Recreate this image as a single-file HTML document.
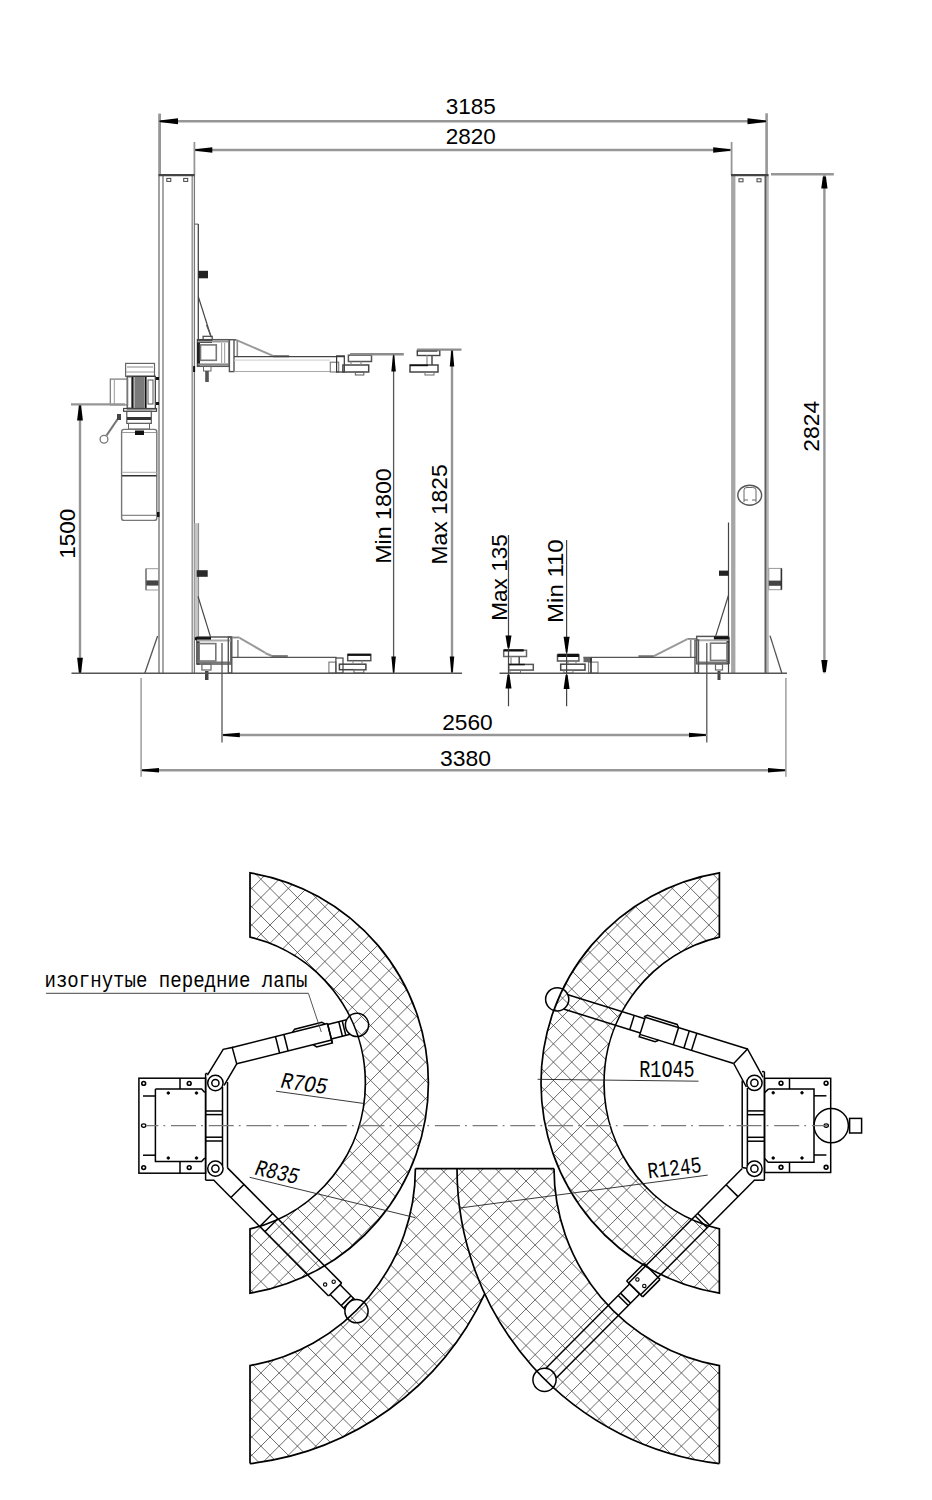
<!DOCTYPE html>
<html><head><meta charset="utf-8"><style>html,body{margin:0;padding:0;background:#fff;}svg{display:block;}</style></head>
<body><svg width="932" height="1500" viewBox="0 0 932 1500">
<rect width="932" height="1500" fill="#fff"/>
<line x1="159.60" y1="113.60" x2="159.60" y2="175.00" stroke="#969696" stroke-width="2.8" />
<line x1="766.60" y1="113.30" x2="766.60" y2="175.00" stroke="#969696" stroke-width="2.6" />
<line x1="158.60" y1="121.20" x2="766.90" y2="121.20" stroke="#969696" stroke-width="2.4" />
<path d="M159.50,120.45 L178.00,118.20 L178.00,124.20 L159.50,121.95 Z" fill="#000"/>
<path d="M766.00,121.95 L747.50,124.20 L747.50,118.20 L766.00,120.45 Z" fill="#000"/>
<text x="470.75" y="114.30" font-family="Liberation Sans" font-size="22.5" text-anchor="middle" textLength="50" lengthAdjust="spacingAndGlyphs">3185</text>
<line x1="194.40" y1="142.00" x2="194.40" y2="175.00" stroke="#969696" stroke-width="1.8" />
<line x1="731.60" y1="142.00" x2="731.60" y2="175.00" stroke="#969696" stroke-width="1.8" />
<line x1="194.50" y1="150.00" x2="731.00" y2="150.00" stroke="#969696" stroke-width="2.4" />
<path d="M195.30,149.25 L212.30,147.25 L212.30,152.75 L195.30,150.75 Z" fill="#000"/>
<path d="M730.20,150.75 L713.20,152.75 L713.20,147.25 L730.20,149.25 Z" fill="#000"/>
<text x="470.75" y="144.40" font-family="Liberation Sans" font-size="22.5" text-anchor="middle" textLength="50" lengthAdjust="spacingAndGlyphs">2820</text>
<line x1="159.00" y1="174.50" x2="159.00" y2="673.30" stroke="#8a8a8a" stroke-width="1.6" />
<line x1="163.00" y1="174.50" x2="163.00" y2="673.30" stroke="#777" stroke-width="1.3" />
<line x1="192.20" y1="174.50" x2="192.20" y2="673.30" stroke="#888" stroke-width="1.3" />
<line x1="194.40" y1="174.50" x2="194.40" y2="673.30" stroke="#777" stroke-width="1.3" />
<line x1="158.60" y1="175.10" x2="194.50" y2="175.10" stroke="#444" stroke-width="2.2" />
<rect x="166.80" y="178.40" width="4.00" height="3.00" stroke="#444" stroke-width="1.0" fill="none"/>
<rect x="183.70" y="178.40" width="4.00" height="3.00" stroke="#444" stroke-width="1.0" fill="none"/>
<rect x="731.10" y="174.50" width="4.30" height="498.80" stroke="none" stroke-width="0" fill="#a6a6a6"/>
<rect x="764.50" y="174.50" width="2.20" height="498.80" stroke="none" stroke-width="0" fill="#5e5e5e"/>
<rect x="766.70" y="174.50" width="2.10" height="498.80" stroke="none" stroke-width="0" fill="#b8b8b8"/>
<line x1="731.00" y1="175.10" x2="768.50" y2="175.10" stroke="#444" stroke-width="2.2" />
<rect x="739.00" y="178.80" width="4.00" height="3.00" stroke="#444" stroke-width="1.0" fill="none"/>
<rect x="757.00" y="178.80" width="4.00" height="3.00" stroke="#444" stroke-width="1.0" fill="none"/>
<ellipse cx="749.7" cy="495.2" rx="11.9" ry="10" fill="none" stroke="#555" stroke-width="1.4"/>
<path d="M744,502 L744,490 Q744,487.5 747,487.5 L752.5,487.5 Q756,487.5 756,490 L756,502 M744,500 L748,500 M752,500 L756,500" stroke="#666" stroke-width="1.0" fill="none" />
<line x1="728.50" y1="522.50" x2="728.50" y2="673.00" stroke="#444" stroke-width="1.2" />
<rect x="719.00" y="570.60" width="9.50" height="5.20" stroke="none" stroke-width="0" fill="#222"/>
<rect x="768.80" y="568.40" width="12.60" height="21.30" stroke="#999" stroke-width="1.0" fill="none"/>
<rect x="768.80" y="580.60" width="12.60" height="5.20" stroke="none" stroke-width="0" fill="#444"/>
<line x1="781.40" y1="568.40" x2="781.40" y2="589.70" stroke="#333" stroke-width="1.6" />
<line x1="770.00" y1="635.60" x2="781.80" y2="673.00" stroke="#555" stroke-width="1.3" />
<line x1="198.30" y1="224.10" x2="198.30" y2="340.00" stroke="#444" stroke-width="1.3" />
<line x1="194.50" y1="224.10" x2="198.30" y2="224.10" stroke="#555" stroke-width="1.0" />
<rect x="198.30" y="270.80" width="9.70" height="7.50" stroke="none" stroke-width="0" fill="#222"/>
<line x1="198.30" y1="296.60" x2="211.20" y2="337.30" stroke="#444" stroke-width="1.2" />
<rect x="194.50" y="523.20" width="4.40" height="114.00" stroke="none" stroke-width="0" fill="#c4c4c4"/>
<line x1="198.60" y1="523.20" x2="198.60" y2="637.00" stroke="#888" stroke-width="1.0" />
<rect x="196.70" y="570.20" width="11.00" height="6.60" stroke="none" stroke-width="0" fill="#2a2a2a"/>
<line x1="198.00" y1="596.40" x2="210.60" y2="637.10" stroke="#444" stroke-width="1.2" />
<rect x="146.00" y="568.70" width="12.50" height="21.30" stroke="#999" stroke-width="1.0" fill="none"/>
<rect x="146.00" y="580.40" width="12.50" height="5.20" stroke="none" stroke-width="0" fill="#444"/>
<line x1="146.00" y1="568.70" x2="146.00" y2="590.00" stroke="#666" stroke-width="1.2" />
<line x1="157.60" y1="636.00" x2="144.80" y2="673.30" stroke="#555" stroke-width="1.3" />
<line x1="728.50" y1="595.20" x2="715.60" y2="636.40" stroke="#444" stroke-width="1.2" />
<rect x="125.60" y="363.40" width="28.90" height="12.90" stroke="#666" stroke-width="1.2" fill="none"/>
<line x1="127.00" y1="367.00" x2="153.00" y2="367.00" stroke="#888" stroke-width="1.0" />
<line x1="126.00" y1="372.00" x2="154.00" y2="372.00" stroke="#999" stroke-width="1.0" />
<rect x="127.20" y="376.30" width="28.10" height="32.60" stroke="#333" stroke-width="1.2" fill="none"/>
<rect x="134.40" y="377.00" width="9.70" height="31.00" stroke="none" stroke-width="0" fill="#7a7a7a"/>
<line x1="132.60" y1="377.00" x2="132.60" y2="408.00" stroke="#111" stroke-width="2.0" />
<line x1="145.60" y1="377.00" x2="145.60" y2="408.00" stroke="#111" stroke-width="2.0" />
<rect x="148.00" y="380.00" width="5.00" height="24.00" stroke="#555" stroke-width="1.0" fill="none"/>
<rect x="127.60" y="377.00" width="4.00" height="31.00" stroke="#666" stroke-width="1.0" fill="none"/>
<rect x="156.00" y="377.00" width="3.00" height="3.00" stroke="none" stroke-width="0" fill="#111"/>
<rect x="156.00" y="402.00" width="3.00" height="3.00" stroke="none" stroke-width="0" fill="#111"/>
<rect x="110.30" y="379.10" width="17.30" height="25.80" stroke="#777" stroke-width="1.2" fill="none"/>
<line x1="114.30" y1="379.10" x2="114.30" y2="404.90" stroke="#999" stroke-width="1.0" />
<rect x="123.60" y="408.50" width="32.90" height="2.80" stroke="#444" stroke-width="1.2" fill="none"/>
<rect x="126.80" y="411.30" width="24.50" height="12.10" stroke="#555" stroke-width="1.2" fill="none"/>
<rect x="127.00" y="417.00" width="24.00" height="3.00" stroke="none" stroke-width="0" fill="#333"/>
<rect x="128.50" y="423.40" width="21.00" height="5.60" stroke="#666" stroke-width="1.0" fill="none"/>
<line x1="119.10" y1="417.00" x2="106.50" y2="435.50" stroke="#777" stroke-width="2.2" />
<circle cx="104.00" cy="439.30" r="3.90" stroke="#777" stroke-width="1.3" fill="none"/>
<rect x="117.00" y="414.00" width="4.00" height="6.00" stroke="none" stroke-width="0" fill="#444"/>
<rect x="121.6" y="429.4" width="35.2" height="91" rx="2.5" stroke="#777" stroke-width="1.4" fill="none"/>
<line x1="122.00" y1="432.50" x2="156.00" y2="432.50" stroke="#999" stroke-width="1.0" />
<rect x="135.00" y="430.50" width="9.00" height="4.50" stroke="none" stroke-width="0" fill="#111"/>
<line x1="122.00" y1="472.40" x2="156.50" y2="472.40" stroke="#bbb" stroke-width="1.2" />
<line x1="122.00" y1="475.80" x2="156.50" y2="475.80" stroke="#333" stroke-width="1.5" />
<line x1="122.00" y1="515.30" x2="156.50" y2="515.30" stroke="#888" stroke-width="1.2" />
<rect x="157.00" y="512.00" width="2.50" height="5.00" stroke="none" stroke-width="0" fill="#111"/>
<rect x="197.50" y="339.70" width="31.60" height="26.60" stroke="#555" stroke-width="1.5" fill="none"/>
<rect x="197.00" y="340.00" width="3.00" height="26.00" stroke="none" stroke-width="0" fill="#222"/>
<rect x="197.50" y="339.70" width="14.50" height="3.30" stroke="none" stroke-width="0" fill="#111"/>
<line x1="197.50" y1="341.50" x2="229.00" y2="341.50" stroke="#999" stroke-width="2.0" />
<line x1="197.50" y1="364.50" x2="229.00" y2="364.50" stroke="#888" stroke-width="2.2" />
<rect x="200.50" y="344.90" width="15.80" height="15.40" stroke="#777" stroke-width="1.6" fill="none"/>
<line x1="221.60" y1="343.00" x2="221.60" y2="363.00" stroke="#aaa" stroke-width="1.2" />
<line x1="224.60" y1="343.00" x2="224.60" y2="363.00" stroke="#aaa" stroke-width="1.2" />
<rect x="229.40" y="339.70" width="4.60" height="31.90" stroke="#555" stroke-width="1.4" fill="none"/>
<rect x="203.10" y="336.30" width="9.10" height="3.40" stroke="#444" stroke-width="1.2" fill="none"/>
<line x1="206.50" y1="325.00" x2="210.70" y2="335.50" stroke="#555" stroke-width="1.2" />
<rect x="203.50" y="366.30" width="7.50" height="4.70" stroke="#666" stroke-width="1.0" fill="none"/>
<rect x="205.20" y="371.00" width="3.60" height="11.00" stroke="none" stroke-width="0" fill="#555"/>
<line x1="234.00" y1="339.90" x2="236.00" y2="339.90" stroke="#666" stroke-width="1.6" />
<line x1="236.00" y1="339.90" x2="273.10" y2="355.90" stroke="#999" stroke-width="2.0" />
<line x1="273.10" y1="356.20" x2="289.20" y2="356.20" stroke="#777" stroke-width="2.2" />
<line x1="237.30" y1="340.00" x2="237.30" y2="356.60" stroke="#888" stroke-width="1.6" />
<line x1="234.00" y1="356.60" x2="344.30" y2="356.60" stroke="#444" stroke-width="1.4" />
<line x1="234.00" y1="360.10" x2="330.00" y2="360.10" stroke="#ccc" stroke-width="1.0" />
<line x1="234.00" y1="371.50" x2="330.30" y2="371.50" stroke="#aaa" stroke-width="1.2" />
<rect x="330.30" y="362.20" width="8.40" height="9.80" stroke="#777" stroke-width="1.1" fill="none"/>
<rect x="336.60" y="355.90" width="7.70" height="16.10" stroke="#333" stroke-width="1.2" fill="none"/>
<rect x="348.40" y="355.20" width="23.10" height="6.30" stroke="#555" stroke-width="1.5" fill="none"/>
<rect x="342.90" y="365.00" width="25.80" height="7.00" stroke="#444" stroke-width="1.5" fill="none"/>
<rect x="355.40" y="372.00" width="8.40" height="3.00" stroke="#666" stroke-width="1.1" fill="none"/>
<line x1="351.00" y1="361.50" x2="351.00" y2="365.00" stroke="#888" stroke-width="1.2" />
<line x1="361.00" y1="361.50" x2="361.00" y2="365.00" stroke="#888" stroke-width="1.2" />
<rect x="417.30" y="350.50" width="22.50" height="5.00" stroke="#444" stroke-width="1.4" fill="none"/>
<rect x="417.30" y="349.30" width="20.00" height="2.20" stroke="none" stroke-width="0" fill="#111"/>
<line x1="427.00" y1="355.50" x2="427.00" y2="365.00" stroke="#999" stroke-width="1.4" />
<line x1="432.00" y1="355.50" x2="432.00" y2="365.00" stroke="#555" stroke-width="1.6" />
<rect x="410.00" y="365.00" width="28.00" height="7.00" stroke="#444" stroke-width="1.5" fill="none"/>
<rect x="410.00" y="364.60" width="18.00" height="1.60" stroke="none" stroke-width="0" fill="#111"/>
<rect x="425.00" y="372.00" width="9.00" height="3.00" stroke="#777" stroke-width="1.1" fill="none"/>
<rect x="197.10" y="637.00" width="33.80" height="27.00" stroke="#555" stroke-width="1.5" fill="none"/>
<rect x="196.60" y="637.50" width="3.00" height="27.00" stroke="none" stroke-width="0" fill="#222"/>
<rect x="195.00" y="637.10" width="16.00" height="3.10" stroke="none" stroke-width="0" fill="#111"/>
<line x1="197.10" y1="640.50" x2="230.90" y2="640.50" stroke="#aaa" stroke-width="2.0" />
<rect x="198.00" y="643.60" width="17.80" height="17.40" stroke="#777" stroke-width="1.6" fill="none"/>
<line x1="197.10" y1="662.50" x2="230.90" y2="662.50" stroke="#777" stroke-width="2.2" />
<rect x="228.30" y="637.00" width="3.50" height="36.00" stroke="#555" stroke-width="1.4" fill="none"/>
<rect x="201.90" y="664.00" width="9.10" height="6.00" stroke="#666" stroke-width="1.2" fill="none"/>
<rect x="205.00" y="671.00" width="3.50" height="9.00" stroke="none" stroke-width="0" fill="#444"/>
<line x1="231.80" y1="637.50" x2="239.60" y2="637.50" stroke="#888" stroke-width="1.8" />
<line x1="239.60" y1="637.80" x2="265.00" y2="652.70" stroke="#999" stroke-width="2.0" />
<line x1="265.00" y1="653.00" x2="272.00" y2="656.00" stroke="#999" stroke-width="2.0" />
<line x1="271.70" y1="656.20" x2="287.80" y2="656.20" stroke="#777" stroke-width="2.2" />
<line x1="237.90" y1="640.00" x2="237.90" y2="657.60" stroke="#888" stroke-width="1.6" />
<line x1="231.80" y1="657.30" x2="336.60" y2="657.30" stroke="#555" stroke-width="1.3" />
<rect x="328.90" y="662.10" width="7.00" height="10.90" stroke="#777" stroke-width="1.1" fill="none"/>
<rect x="335.90" y="658.00" width="7.10" height="15.00" stroke="#444" stroke-width="1.2" fill="none"/>
<rect x="347.70" y="654.50" width="23.10" height="6.20" stroke="#555" stroke-width="1.5" fill="none"/>
<rect x="347.70" y="653.70" width="23.10" height="2.20" stroke="none" stroke-width="0" fill="#111"/>
<rect x="339.40" y="664.20" width="26.50" height="5.50" stroke="#444" stroke-width="1.5" fill="none"/>
<rect x="354.00" y="669.70" width="9.80" height="3.30" stroke="#666" stroke-width="1.1" fill="none"/>
<line x1="353.00" y1="660.70" x2="353.00" y2="664.20" stroke="#888" stroke-width="1.1" />
<line x1="362.00" y1="660.70" x2="362.00" y2="664.20" stroke="#888" stroke-width="1.1" />
<rect x="696.70" y="636.40" width="31.80" height="27.40" stroke="#555" stroke-width="1.5" fill="none"/>
<rect x="726.50" y="637.00" width="3.00" height="27.00" stroke="none" stroke-width="0" fill="#222"/>
<rect x="713.90" y="636.40" width="14.60" height="3.60" stroke="none" stroke-width="0" fill="#111"/>
<line x1="696.70" y1="640.30" x2="728.50" y2="640.30" stroke="#aaa" stroke-width="2.0" />
<rect x="710.50" y="643.20" width="17.10" height="17.20" stroke="#777" stroke-width="1.6" fill="none"/>
<line x1="696.70" y1="662.50" x2="728.50" y2="662.50" stroke="#777" stroke-width="2.2" />
<rect x="695.00" y="640.00" width="3.50" height="33.00" stroke="#555" stroke-width="1.4" fill="none"/>
<rect x="715.50" y="664.00" width="7.00" height="6.00" stroke="#666" stroke-width="1.2" fill="none"/>
<rect x="717.50" y="671.00" width="3.00" height="9.00" stroke="none" stroke-width="0" fill="#444"/>
<line x1="696.00" y1="638.90" x2="687.30" y2="638.90" stroke="#888" stroke-width="1.8" />
<line x1="687.30" y1="639.20" x2="653.80" y2="656.10" stroke="#999" stroke-width="2.0" />
<line x1="653.80" y1="656.30" x2="638.40" y2="656.30" stroke="#777" stroke-width="2.2" />
<line x1="690.70" y1="640.00" x2="690.70" y2="657.00" stroke="#888" stroke-width="1.6" />
<line x1="583.40" y1="657.30" x2="696.00" y2="657.30" stroke="#555" stroke-width="1.3" />
<rect x="588.60" y="662.10" width="9.40" height="10.90" stroke="#777" stroke-width="1.1" fill="none"/>
<rect x="583.50" y="657.20" width="8.50" height="5.00" stroke="none" stroke-width="0" fill="#666"/>
<line x1="591.00" y1="657.50" x2="591.00" y2="673.00" stroke="#333" stroke-width="1.6" />
<rect x="557.50" y="655.00" width="21.40" height="6.00" stroke="#555" stroke-width="1.5" fill="none"/>
<rect x="557.50" y="653.70" width="21.40" height="3.30" stroke="none" stroke-width="0" fill="#111"/>
<rect x="560.70" y="664.20" width="24.30" height="5.90" stroke="#444" stroke-width="1.5" fill="none"/>
<rect x="563.90" y="670.10" width="9.10" height="2.90" stroke="#777" stroke-width="1.0" fill="none"/>
<line x1="568.00" y1="661.00" x2="568.00" y2="664.00" stroke="#888" stroke-width="1.2" />
<line x1="576.00" y1="661.00" x2="576.00" y2="664.00" stroke="#888" stroke-width="1.2" />
<rect x="503.70" y="650.30" width="22.80" height="6.20" stroke="#666" stroke-width="1.5" fill="none"/>
<rect x="503.70" y="649.20" width="20.00" height="2.30" stroke="none" stroke-width="0" fill="#111"/>
<line x1="511.00" y1="656.50" x2="511.00" y2="664.00" stroke="#999" stroke-width="1.4" />
<line x1="519.20" y1="656.50" x2="519.20" y2="664.00" stroke="#555" stroke-width="1.6" />
<rect x="508.70" y="664.40" width="24.60" height="5.70" stroke="#555" stroke-width="1.5" fill="none"/>
<rect x="508.70" y="663.80" width="16.00" height="1.50" stroke="none" stroke-width="0" fill="#111"/>
<rect x="510.00" y="670.10" width="10.50" height="2.90" stroke="#777" stroke-width="1.0" fill="none"/>
<line x1="194.10" y1="366.00" x2="194.10" y2="372.00" stroke="#111" stroke-width="2" />
<line x1="771.00" y1="174.30" x2="833.80" y2="174.30" stroke="#969696" stroke-width="2.6" />
<line x1="824.40" y1="174.60" x2="824.40" y2="673.30" stroke="#969696" stroke-width="2.4" />
<path d="M825.90,176.60 L827.55,188.60 L821.25,188.60 L822.90,176.60 Z" fill="#000"/>
<path d="M822.90,672.00 L821.25,660.00 L827.55,660.00 L825.90,672.00 Z" fill="#000"/>
<text x="0.00" y="0.00" font-family="Liberation Sans" font-size="22.5" text-anchor="middle" transform="translate(819.1,426.15) rotate(-90)" textLength="51" lengthAdjust="spacingAndGlyphs">2824</text>
<line x1="71.50" y1="673.30" x2="462.00" y2="673.30" stroke="#555" stroke-width="1.4" />
<line x1="499.50" y1="673.30" x2="787.00" y2="673.30" stroke="#555" stroke-width="1.4" />
<line x1="71.00" y1="404.40" x2="125.00" y2="404.40" stroke="#969696" stroke-width="2.2" />
<line x1="80.00" y1="404.40" x2="80.00" y2="673.30" stroke="#969696" stroke-width="2.4" />
<path d="M81.10,405.50 L82.90,420.50 L77.10,420.50 L78.90,405.50 Z" fill="#000"/>
<path d="M78.90,672.80 L77.10,657.80 L82.90,657.80 L81.10,672.80 Z" fill="#000"/>
<text x="0.00" y="0.00" font-family="Liberation Sans" font-size="22.5" text-anchor="middle" transform="translate(74.8,533.85) rotate(-90)" textLength="50" lengthAdjust="spacingAndGlyphs">1500</text>
<line x1="222.00" y1="643.00" x2="222.00" y2="742.60" stroke="#555" stroke-width="1.3" />
<line x1="706.80" y1="643.00" x2="706.80" y2="742.60" stroke="#555" stroke-width="1.3" />
<line x1="222.00" y1="735.00" x2="706.80" y2="735.00" stroke="#969696" stroke-width="2.4" />
<path d="M222.80,734.30 L239.80,732.75 L239.80,737.25 L222.80,735.70 Z" fill="#000"/>
<path d="M706.00,735.70 L689.00,737.25 L689.00,732.75 L706.00,734.30 Z" fill="#000"/>
<text x="467.50" y="729.90" font-family="Liberation Sans" font-size="22.5" text-anchor="middle" textLength="50.5" lengthAdjust="spacingAndGlyphs">2560</text>
<line x1="141.10" y1="678.00" x2="141.10" y2="776.80" stroke="#969696" stroke-width="1.4" />
<line x1="785.90" y1="678.00" x2="785.90" y2="776.80" stroke="#969696" stroke-width="1.4" />
<line x1="141.10" y1="770.30" x2="785.90" y2="770.30" stroke="#969696" stroke-width="2.4" />
<path d="M142.00,769.60 L159.00,768.05 L159.00,772.55 L142.00,771.00 Z" fill="#000"/>
<path d="M785.00,771.00 L768.00,772.55 L768.00,768.05 L785.00,769.60 Z" fill="#000"/>
<text x="465.60" y="765.60" font-family="Liberation Sans" font-size="22.5" text-anchor="middle" textLength="51" lengthAdjust="spacingAndGlyphs">3380</text>
<line x1="350.00" y1="354.30" x2="403.80" y2="354.30" stroke="#8c8c8c" stroke-width="2.6" />
<line x1="393.60" y1="354.50" x2="393.60" y2="673.30" stroke="#555" stroke-width="1.3" />
<path d="M394.30,355.50 L395.85,371.50 L391.35,371.50 L392.90,355.50 Z" fill="#000"/>
<path d="M392.90,672.50 L391.35,656.50 L395.85,656.50 L394.30,672.50 Z" fill="#000"/>
<text x="0.00" y="0.00" font-family="Liberation Sans" font-size="22.5" text-anchor="middle" transform="translate(391.2,516) rotate(-90)" textLength="95.5" lengthAdjust="spacingAndGlyphs">Min 1800</text>
<line x1="417.00" y1="349.60" x2="461.50" y2="349.60" stroke="#8c8c8c" stroke-width="2.2" />
<line x1="452.00" y1="349.60" x2="452.00" y2="673.30" stroke="#969696" stroke-width="2.4" />
<path d="M452.70,350.50 L454.25,366.50 L449.75,366.50 L451.30,350.50 Z" fill="#000"/>
<path d="M451.30,672.50 L449.75,656.50 L454.25,656.50 L452.70,672.50 Z" fill="#000"/>
<text x="0.00" y="0.00" font-family="Liberation Sans" font-size="22.5" text-anchor="middle" transform="translate(447.2,514.4) rotate(-90)" textLength="100" lengthAdjust="spacingAndGlyphs">Max 1825</text>
<line x1="508.50" y1="535.00" x2="508.50" y2="706.30" stroke="#444" stroke-width="1.2" />
<path d="M507.50,647.80 L505.50,635.50 L511.50,635.50 L509.50,647.80 Z" fill="#000"/>
<path d="M509.50,674.70 L511.50,688.40 L505.50,688.40 L507.50,674.70 Z" fill="#000"/>
<text x="0.00" y="0.00" font-family="Liberation Sans" font-size="22.5" text-anchor="middle" transform="translate(507,577.45) rotate(-90)" textLength="86.5" lengthAdjust="spacingAndGlyphs">Max 135</text>
<line x1="566.60" y1="540.00" x2="566.60" y2="706.30" stroke="#444" stroke-width="1.2" />
<path d="M565.85,652.40 L563.60,636.80 L569.60,636.80 L567.35,652.40 Z" fill="#000"/>
<path d="M567.60,675.00 L569.60,688.90 L563.60,688.90 L565.60,675.00 Z" fill="#000"/>
<text x="0.00" y="0.00" font-family="Liberation Sans" font-size="22.5" text-anchor="middle" transform="translate(563.4,581.15) rotate(-90)" textLength="83.5" lengthAdjust="spacingAndGlyphs">Min 110</text>
<defs><clipPath id="hc"><path d="M250.0,872.83 A213.0,213.0 0 0 1 250.0,1293.17 L250.0,1228.95 A150.0,150.0 0 0 0 250.0,937.05 Z"/><path d="M719.4,872.83 A213.0,213.0 0 0 0 719.4,1293.17 L719.4,1228.95 A150.0,150.0 0 0 1 719.4,937.05 Z"/><path d="M415.40,1168.6 L512.40,1168.6 A297.0,297.0 0 0 1 250.0,1463.58 L250.0,1365.58 A200.0,200.0 0 0 0 415.40,1168.6 Z"/><path d="M554.00,1168.6 L457.00,1168.6 A297.0,297.0 0 0 0 719.4,1463.58 L719.4,1365.58 A200.0,200.0 0 0 1 554.00,1168.6 Z"/></clipPath></defs>
<g clip-path="url(#hc)"><path d="M225.28,860 L-389.72,1475 M243.56,860 L-371.44,1475 M261.85,860 L-353.15,1475 M280.13,860 L-334.87,1475 M298.41,860 L-316.59,1475 M316.70,860 L-298.30,1475 M334.99,860 L-280.01,1475 M353.27,860 L-261.73,1475 M371.56,860 L-243.44,1475 M389.84,860 L-225.16,1475 M408.12,860 L-206.88,1475 M426.41,860 L-188.59,1475 M444.69,860 L-170.31,1475 M462.98,860 L-152.02,1475 M481.27,860 L-133.73,1475 M499.55,860 L-115.45,1475 M517.84,860 L-97.16,1475 M536.12,860 L-78.88,1475 M554.40,860 L-60.60,1475 M572.69,860 L-42.31,1475 M590.98,860 L-24.02,1475 M609.26,860 L-5.74,1475 M627.55,860 L12.55,1475 M645.83,860 L30.83,1475 M664.12,860 L49.12,1475 M682.40,860 L67.40,1475 M700.68,860 L85.68,1475 M718.97,860 L103.97,1475 M737.26,860 L122.26,1475 M755.54,860 L140.54,1475 M773.83,860 L158.83,1475 M792.11,860 L177.11,1475 M810.39,860 L195.39,1475 M828.68,860 L213.68,1475 M846.97,860 L231.97,1475 M865.25,860 L250.25,1475 M883.54,860 L268.54,1475 M901.82,860 L286.82,1475 M920.11,860 L305.11,1475 M938.39,860 L323.39,1475 M956.67,860 L341.67,1475 M974.96,860 L359.96,1475 M993.25,860 L378.25,1475 M1011.53,860 L396.53,1475 M1029.82,860 L414.82,1475 M1048.10,860 L433.10,1475 M1066.38,860 L451.38,1475 M1084.67,860 L469.67,1475 M1102.96,860 L487.96,1475 M1121.24,860 L506.24,1475 M1139.53,860 L524.53,1475 M1157.81,860 L542.81,1475 M1176.10,860 L561.10,1475 M1194.38,860 L579.38,1475 M1212.66,860 L597.66,1475 M1230.95,860 L615.95,1475 M1249.24,860 L634.24,1475 M1267.52,860 L652.52,1475 M1285.80,860 L670.80,1475 M1304.09,860 L689.09,1475 M1322.38,860 L707.38,1475 M1340.66,860 L725.66,1475 M1358.95,860 L743.95,1475 M735.29,860 L1350.29,1475 M717.00,860 L1332.01,1475 M698.72,860 L1313.72,1475 M680.43,860 L1295.43,1475 M662.15,860 L1277.15,1475 M643.87,860 L1258.87,1475 M625.58,860 L1240.58,1475 M607.29,860 L1222.30,1475 M589.01,860 L1204.01,1475 M570.73,860 L1185.72,1475 M552.44,860 L1167.44,1475 M534.15,860 L1149.15,1475 M515.87,860 L1130.87,1475 M497.58,860 L1112.59,1475 M479.30,860 L1094.30,1475 M461.01,860 L1076.01,1475 M442.73,860 L1057.73,1475 M424.44,860 L1039.44,1475 M406.16,860 L1021.16,1475 M387.88,860 L1002.88,1475 M369.59,860 L984.59,1475 M351.31,860 L966.31,1475 M333.02,860 L948.02,1475 M314.74,860 L929.74,1475 M296.45,860 L911.45,1475 M278.16,860 L893.16,1475 M259.88,860 L874.88,1475 M241.60,860 L856.60,1475 M223.31,860 L838.31,1475 M205.02,860 L820.02,1475 M186.74,860 L801.74,1475 M168.46,860 L783.46,1475 M150.17,860 L765.17,1475 M131.88,860 L746.88,1475 M113.60,860 L728.60,1475 M95.31,860 L710.31,1475 M77.03,860 L692.03,1475 M58.75,860 L673.75,1475 M40.46,860 L655.46,1475 M22.17,860 L637.17,1475 M3.89,860 L618.89,1475 M-14.39,860 L600.61,1475 M-32.68,860 L582.32,1475 M-50.97,860 L564.03,1475 M-69.25,860 L545.75,1475 M-87.53,860 L527.47,1475 M-105.82,860 L509.18,1475 M-124.11,860 L490.89,1475 M-142.39,860 L472.61,1475 M-160.67,860 L454.33,1475 M-178.96,860 L436.04,1475 M-197.25,860 L417.75,1475 M-215.53,860 L399.47,1475 M-233.82,860 L381.18,1475 M-252.10,860 L362.90,1475 M-270.38,860 L344.62,1475 M-288.67,860 L326.33,1475 M-306.95,860 L308.05,1475 M-325.24,860 L289.76,1475 M-343.53,860 L271.47,1475 M-361.81,860 L253.19,1475 M-380.10,860 L234.90,1475" stroke="#3a3a3a" stroke-width="0.75" fill="none"/></g>
<path d="M250.0,872.83 A213.0,213.0 0 0 1 250.0,1293.17 L250.0,1228.95 A150.0,150.0 0 0 0 250.0,937.05 Z" stroke="#000" stroke-width="1.7" fill="none" />
<path d="M719.4,872.83 A213.0,213.0 0 0 0 719.4,1293.17 L719.4,1228.95 A150.0,150.0 0 0 1 719.4,937.05 Z" stroke="#000" stroke-width="1.7" fill="none" />
<path d="M415.40,1168.6 A200.0,200.0 0 0 1 250.0,1365.58 L250.0,1463.58" stroke="#000" stroke-width="1.7" fill="none" />
<path d="M250.0,1463.58 A297.0,297.0 0 0 0 484.70,1293.85" stroke="#000" stroke-width="1.7" fill="none" />
<path d="M554.00,1168.6 A200.0,200.0 0 0 0 719.4,1365.58 L719.4,1463.58" stroke="#000" stroke-width="1.7" fill="none" />
<path d="M719.4,1463.58 A297.0,297.0 0 0 1 457.00,1168.6" stroke="#000" stroke-width="1.7" fill="none" />
<line x1="415.40" y1="1168.60" x2="554.00" y2="1168.60" stroke="#000" stroke-width="1.7" />
<circle cx="357.00" cy="1024.90" r="11.60" stroke="#000" stroke-width="1.5" fill="none"/>
<line x1="346.59" y1="1019.78" x2="327.73" y2="1024.50" stroke="#000" stroke-width="1.5" />
<line x1="350.24" y1="1034.33" x2="331.37" y2="1039.05" stroke="#000" stroke-width="1.5" />
<line x1="342.18" y1="1020.88" x2="345.83" y2="1035.43" stroke="#000" stroke-width="1.5" />
<line x1="338.78" y1="1021.73" x2="342.43" y2="1036.28" stroke="#000" stroke-width="1.5" />
<line x1="327.48" y1="1023.53" x2="331.62" y2="1040.02" stroke="#000" stroke-width="1.5" />
<line x1="327.48" y1="1023.53" x2="232.20" y2="1047.41" stroke="#000" stroke-width="1.5" />
<line x1="331.62" y1="1040.02" x2="236.70" y2="1063.81" stroke="#000" stroke-width="1.5" />
<line x1="283.93" y1="1034.45" x2="288.06" y2="1050.94" stroke="#000" stroke-width="1.5" />
<line x1="275.49" y1="1036.56" x2="279.62" y2="1053.05" stroke="#000" stroke-width="1.5" />
<path d="M292.37,1032.33 L294.67,1029.18 L321.83,1022.37 L325.35,1024.07" stroke="#000" stroke-width="1.5" fill="none" />
<path d="M331.62,1040.02 L332.37,1043.03 L316.65,1046.97 L312.99,1044.69" stroke="#000" stroke-width="1.5" fill="none" />
<line x1="327.48" y1="1023.53" x2="332.37" y2="1043.03" stroke="#000" stroke-width="1.5" />
<path d="M207.40,1075.10 L223.20,1049.30 L232.20,1047.40 L236.70,1063.80 L224.10,1085.40" stroke="#000" stroke-width="1.5" fill="none" />
<circle cx="557.20" cy="999.30" r="11.60" stroke="#000" stroke-width="1.5" fill="none"/>
<line x1="563.48" y1="1009.05" x2="640.38" y2="1032.91" stroke="#000" stroke-width="1.5" />
<line x1="567.90" y1="994.82" x2="644.79" y2="1018.68" stroke="#000" stroke-width="1.5" />
<line x1="629.78" y1="1029.62" x2="634.19" y2="1015.39" stroke="#000" stroke-width="1.5" />
<line x1="639.92" y1="1034.39" x2="645.25" y2="1017.19" stroke="#000" stroke-width="1.5" />
<line x1="639.92" y1="1034.39" x2="733.70" y2="1063.48" stroke="#000" stroke-width="1.5" />
<line x1="645.25" y1="1017.19" x2="747.50" y2="1048.92" stroke="#000" stroke-width="1.5" />
<line x1="683.95" y1="1048.05" x2="689.28" y2="1030.86" stroke="#000" stroke-width="1.5" />
<line x1="691.49" y1="1050.39" x2="696.83" y2="1033.20" stroke="#000" stroke-width="1.5" />
<path d="M643.91,1016.78 L647.52,1015.28 L677.13,1024.47 L678.58,1027.54" stroke="#000" stroke-width="1.5" fill="none" />
<path d="M639.92,1034.39 L639.18,1036.77 L655.03,1041.69 L658.64,1040.19" stroke="#000" stroke-width="1.5" fill="none" />
<line x1="673.25" y1="1044.73" x2="678.58" y2="1027.54" stroke="#000" stroke-width="1.5" />
<path d="M733.70,1063.50 L747.50,1048.90 L763.10,1077.40" stroke="#000" stroke-width="1.5" fill="none" />
<line x1="733.70" y1="1063.50" x2="746.40" y2="1087.00" stroke="#000" stroke-width="1.5" />
<circle cx="356.50" cy="1311.20" r="11.60" stroke="#000" stroke-width="1.5" fill="none"/>
<line x1="354.97" y1="1299.70" x2="340.08" y2="1284.67" stroke="#000" stroke-width="1.5" />
<line x1="345.02" y1="1309.55" x2="330.14" y2="1294.52" stroke="#000" stroke-width="1.5" />
<line x1="353.45" y1="1298.17" x2="343.50" y2="1308.02" stroke="#000" stroke-width="1.5" />
<line x1="351.06" y1="1295.76" x2="341.11" y2="1305.61" stroke="#000" stroke-width="1.5" />
<line x1="341.65" y1="1283.12" x2="328.57" y2="1296.07" stroke="#000" stroke-width="1.5" />
<line x1="341.65" y1="1283.12" x2="227.50" y2="1167.85" stroke="#000" stroke-width="1.5" />
<line x1="328.57" y1="1296.07" x2="213.84" y2="1180.20" stroke="#000" stroke-width="1.5" />
<line x1="277.90" y1="1218.75" x2="264.83" y2="1231.69" stroke="#000" stroke-width="1.5" />
<line x1="272.76" y1="1213.56" x2="259.69" y2="1226.50" stroke="#000" stroke-width="1.5" />
<line x1="243.99" y1="1184.50" x2="230.91" y2="1197.44" stroke="#000" stroke-width="1.5" />
<circle cx="333.66" cy="1281.74" r="1.70" stroke="#000" stroke-width="1.1" fill="none"/>
<circle cx="325.16" cy="1284.53" r="1.70" stroke="#000" stroke-width="1.1" fill="none"/>
<line x1="205.60" y1="1180.20" x2="214.34" y2="1180.20" stroke="#000" stroke-width="1.5" />
<circle cx="544.50" cy="1379.80" r="11.60" stroke="#000" stroke-width="1.5" fill="none"/>
<line x1="556.00" y1="1378.29" x2="639.68" y2="1293.93" stroke="#000" stroke-width="1.5" />
<line x1="545.92" y1="1368.29" x2="629.60" y2="1283.93" stroke="#000" stroke-width="1.5" />
<line x1="628.28" y1="1305.43" x2="618.19" y2="1295.43" stroke="#000" stroke-width="1.5" />
<line x1="630.53" y1="1303.15" x2="620.45" y2="1293.15" stroke="#000" stroke-width="1.5" />
<line x1="640.61" y1="1294.84" x2="628.68" y2="1283.01" stroke="#000" stroke-width="1.5" />
<line x1="640.61" y1="1294.84" x2="754.33" y2="1180.20" stroke="#000" stroke-width="1.5" />
<line x1="628.68" y1="1283.01" x2="742.20" y2="1168.57" stroke="#000" stroke-width="1.5" />
<line x1="707.16" y1="1227.75" x2="695.23" y2="1215.92" stroke="#000" stroke-width="1.5" />
<line x1="709.62" y1="1225.27" x2="697.70" y2="1213.43" stroke="#000" stroke-width="1.5" />
<line x1="738.00" y1="1196.65" x2="726.08" y2="1184.82" stroke="#000" stroke-width="1.5" />
<circle cx="637.40" cy="1279.50" r="1.70" stroke="#000" stroke-width="1.1" fill="none"/>
<circle cx="644.30" cy="1285.90" r="1.70" stroke="#000" stroke-width="1.1" fill="none"/>
<line x1="642.67" y1="1296.88" x2="660.06" y2="1279.35" stroke="#000" stroke-width="1.5" />
<line x1="626.62" y1="1280.97" x2="644.02" y2="1263.43" stroke="#000" stroke-width="1.5" />
<line x1="642.67" y1="1296.88" x2="626.62" y2="1280.97" stroke="#000" stroke-width="1.5" />
<line x1="660.06" y1="1279.35" x2="644.02" y2="1263.43" stroke="#000" stroke-width="1.5" />
<line x1="742.20" y1="1167.40" x2="746.50" y2="1168.30" stroke="#000" stroke-width="1.5" />
<line x1="753.83" y1="1180.20" x2="764.40" y2="1180.20" stroke="#000" stroke-width="1.5" />
<rect x="138.90" y="1078.20" width="66.70" height="95.00" stroke="#000" stroke-width="1.5" fill="none"/>
<path d="M155.4,1089 L201.6,1089 L204.8,1092.5 M204.8,1158 L201.6,1161.6 L155.4,1161.6 L155.4,1089" stroke="#000" stroke-width="1.5" fill="none" />
<line x1="180.00" y1="1078.20" x2="180.00" y2="1089.00" stroke="#000" stroke-width="1.5" />
<line x1="180.00" y1="1161.60" x2="180.00" y2="1173.20" stroke="#000" stroke-width="1.5" />
<circle cx="143.70" cy="1083.40" r="1.90" stroke="#000" stroke-width="1.6" fill="none"/>
<circle cx="189.20" cy="1083.40" r="1.90" stroke="#000" stroke-width="1.6" fill="none"/>
<circle cx="143.70" cy="1167.60" r="1.90" stroke="#000" stroke-width="1.6" fill="none"/>
<circle cx="189.20" cy="1167.60" r="1.90" stroke="#000" stroke-width="1.6" fill="none"/>
<circle cx="168.30" cy="1093.00" r="1.30" stroke="#000" stroke-width="0.8" fill="#000"/>
<circle cx="196.50" cy="1093.00" r="1.30" stroke="#000" stroke-width="0.8" fill="#000"/>
<circle cx="168.30" cy="1158.00" r="1.30" stroke="#000" stroke-width="0.8" fill="#000"/>
<circle cx="196.50" cy="1158.00" r="1.30" stroke="#000" stroke-width="0.8" fill="#000"/>
<ellipse cx="143.7" cy="1125.6" rx="2.2" ry="1.8" fill="none" stroke="#000" stroke-width="1.3"/>
<line x1="143.00" y1="1096.00" x2="155.40" y2="1096.00" stroke="#000" stroke-width="1.5" />
<line x1="143.00" y1="1155.20" x2="155.40" y2="1155.20" stroke="#000" stroke-width="1.5" />
<line x1="205.60" y1="1073.50" x2="205.60" y2="1180.20" stroke="#000" stroke-width="1.5" />
<line x1="205.60" y1="1073.50" x2="207.60" y2="1073.50" stroke="#000" stroke-width="1.5" />
<line x1="222.50" y1="1087.00" x2="222.50" y2="1166.00" stroke="#000" stroke-width="1.5" />
<line x1="227.50" y1="1082.00" x2="227.50" y2="1167.80" stroke="#000" stroke-width="1.5" />
<line x1="205.60" y1="1111.00" x2="222.50" y2="1111.00" stroke="#000" stroke-width="1.5" />
<line x1="205.60" y1="1114.60" x2="222.50" y2="1114.60" stroke="#000" stroke-width="1.5" />
<line x1="205.60" y1="1137.20" x2="222.50" y2="1137.20" stroke="#000" stroke-width="1.5" />
<line x1="205.60" y1="1141.00" x2="222.50" y2="1141.00" stroke="#000" stroke-width="1.5" />
<circle cx="215.40" cy="1083.00" r="7.70" stroke="#000" stroke-width="1.5" fill="#fff"/>
<circle cx="215.40" cy="1083.00" r="3.60" stroke="#000" stroke-width="1.5" fill="none"/>
<circle cx="215.40" cy="1168.60" r="7.70" stroke="#000" stroke-width="1.5" fill="#fff"/>
<circle cx="215.40" cy="1168.60" r="3.60" stroke="#000" stroke-width="1.5" fill="none"/>
<rect x="764.60" y="1078.30" width="66.10" height="94.20" stroke="#000" stroke-width="1.5" fill="none"/>
<path d="M768.3,1089.1 L814,1089.1 L814,1162.2 L768.3,1162.2 L764.6,1158.4 M764.6,1092.8 L768.3,1089.1" stroke="#000" stroke-width="1.5" fill="none" />
<line x1="789.50" y1="1078.30" x2="789.50" y2="1089.10" stroke="#000" stroke-width="1.5" />
<line x1="789.50" y1="1162.20" x2="789.50" y2="1172.50" stroke="#000" stroke-width="1.5" />
<circle cx="781.00" cy="1083.20" r="1.90" stroke="#000" stroke-width="1.6" fill="none"/>
<circle cx="826.10" cy="1083.20" r="1.90" stroke="#000" stroke-width="1.6" fill="none"/>
<circle cx="781.00" cy="1167.30" r="1.90" stroke="#000" stroke-width="1.6" fill="none"/>
<circle cx="826.10" cy="1167.30" r="1.90" stroke="#000" stroke-width="1.6" fill="none"/>
<circle cx="773.20" cy="1092.80" r="1.30" stroke="#000" stroke-width="0.8" fill="#000"/>
<circle cx="802.00" cy="1092.80" r="1.30" stroke="#000" stroke-width="0.8" fill="#000"/>
<circle cx="773.20" cy="1158.00" r="1.30" stroke="#000" stroke-width="0.8" fill="#000"/>
<circle cx="802.00" cy="1158.00" r="1.30" stroke="#000" stroke-width="0.8" fill="#000"/>
<line x1="814.00" y1="1095.80" x2="826.40" y2="1095.80" stroke="#000" stroke-width="1.5" />
<line x1="814.00" y1="1155.00" x2="826.40" y2="1155.00" stroke="#000" stroke-width="1.5" />
<circle cx="831.20" cy="1125.60" r="17.20" stroke="#000" stroke-width="1.5" fill="none"/>
<rect x="849.60" y="1118.40" width="12.00" height="14.60" stroke="#000" stroke-width="1.5" fill="none"/>
<ellipse cx="826.2" cy="1125.6" rx="2.2" ry="1.8" fill="none" stroke="#000" stroke-width="1.3"/>
<line x1="742.20" y1="1080.60" x2="742.20" y2="1167.80" stroke="#000" stroke-width="1.5" />
<line x1="747.40" y1="1088.00" x2="747.40" y2="1166.00" stroke="#000" stroke-width="1.5" />
<line x1="764.40" y1="1071.60" x2="764.40" y2="1180.20" stroke="#000" stroke-width="1.5" />
<line x1="761.90" y1="1071.60" x2="764.40" y2="1071.60" stroke="#000" stroke-width="1.5" />
<line x1="747.40" y1="1110.90" x2="764.40" y2="1110.90" stroke="#000" stroke-width="1.5" />
<line x1="747.40" y1="1114.70" x2="764.40" y2="1114.70" stroke="#000" stroke-width="1.5" />
<line x1="747.40" y1="1137.30" x2="764.40" y2="1137.30" stroke="#000" stroke-width="1.5" />
<line x1="747.40" y1="1141.20" x2="764.40" y2="1141.20" stroke="#000" stroke-width="1.5" />
<circle cx="754.40" cy="1082.90" r="7.70" stroke="#000" stroke-width="1.5" fill="#fff"/>
<circle cx="754.40" cy="1082.90" r="3.60" stroke="#000" stroke-width="1.5" fill="none"/>
<circle cx="754.40" cy="1168.70" r="7.70" stroke="#000" stroke-width="1.5" fill="#fff"/>
<circle cx="754.40" cy="1168.70" r="3.60" stroke="#000" stroke-width="1.5" fill="none"/>
<line x1="46.00" y1="993.30" x2="308.40" y2="993.30" stroke="#444" stroke-width="1.0" />
<line x1="308.40" y1="993.30" x2="321.30" y2="1032.00" stroke="#444" stroke-width="0.9" />
<text x="0.00" y="0.00" font-family="Liberation Mono" font-size="18.5" text-anchor="start" transform="translate(44.5,987.4) scale(1,1.22)" textLength="263" lengthAdjust="spacingAndGlyphs">изогнутые передние лапы</text>
<line x1="276.00" y1="1091.20" x2="364.70" y2="1103.60" stroke="#222" stroke-width="0.9" />
<text x="0.00" y="0.00" font-family="Liberation Mono" font-size="23" text-anchor="start" transform="translate(280.3,1087.6) rotate(8)" textLength="46.5" lengthAdjust="spacingAndGlyphs" font-style="italic">R7O5</text>
<line x1="249.70" y1="1177.30" x2="415.00" y2="1217.60" stroke="#222" stroke-width="0.9" />
<text x="0.00" y="0.00" font-family="Liberation Mono" font-size="23" text-anchor="start" transform="translate(254.2,1174.4) rotate(13)" textLength="44" lengthAdjust="spacingAndGlyphs" font-style="italic">R835</text>
<line x1="537.60" y1="1079.30" x2="698.50" y2="1081.20" stroke="#222" stroke-width="0.9" />
<text x="639.20" y="1076.90" font-family="Liberation Mono" font-size="23" text-anchor="start" textLength="55.5" lengthAdjust="spacingAndGlyphs">R1O45</text>
<line x1="460.00" y1="1208.00" x2="707.70" y2="1175.10" stroke="#222" stroke-width="0.9" />
<text x="0.00" y="0.00" font-family="Liberation Mono" font-size="23" text-anchor="start" transform="translate(648.6,1178.6) rotate(-7)" textLength="54" lengthAdjust="spacingAndGlyphs">R1245</text>
<line x1="146.3" y1="1125.7" x2="828" y2="1125.7" stroke="#7a7a7a" stroke-width="1.2" stroke-dasharray="25 5.1 1.8 5.8" stroke-dashoffset="13"/>
</svg></body></html>
